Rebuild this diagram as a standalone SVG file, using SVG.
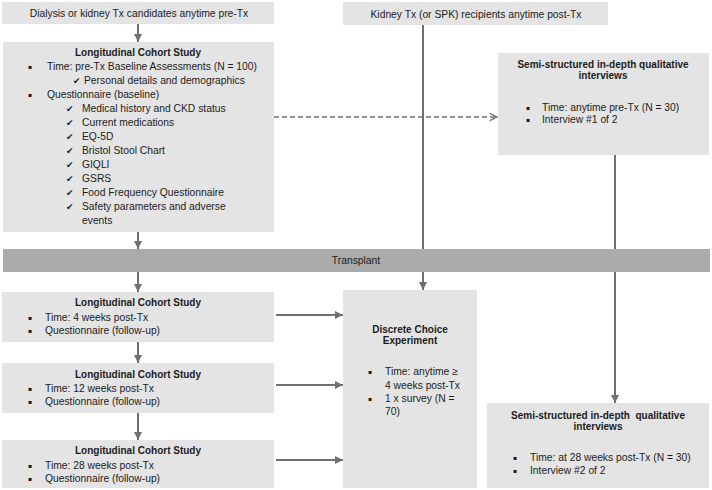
<svg xmlns="http://www.w3.org/2000/svg" width="712" height="490" viewBox="0 0 712 490">
<style>
.box{fill:#e4e4e4}
.bar{fill:#ababab}
text{font-family:"Liberation Sans","DejaVu Sans",sans-serif;font-size:10.3px;fill:#1c1c1c}
.t{font-weight:bold;text-anchor:middle;font-size:10px}
.c{text-anchor:middle}
.b{font-family:"DejaVu Sans",sans-serif;font-size:6px}
.k{font-family:"DejaVu Sans",sans-serif;font-size:9px}
.ln{stroke:#707070;stroke-width:2;fill:none}
.dash{stroke:#707070;stroke-width:1.3;fill:none;stroke-dasharray:5 3}
</style>
<defs>
<marker id="ah" viewBox="0 0 10 10" refX="10" refY="5" markerWidth="4" markerHeight="4" orient="auto" markerUnits="strokeWidth">
<path d="M0,0 L10,5 L0,10 z" fill="#707070"/>
</marker>
<marker id="oh" viewBox="0 0 10 10" refX="9" refY="5" markerWidth="7" markerHeight="7" orient="auto" markerUnits="strokeWidth">
<path d="M1,1 L9,5 L1,9" fill="none" stroke="#707070" stroke-width="1.5"/>
</marker>
</defs>

<g id="connectors">
<line class="ln" x1="138" y1="24" x2="138" y2="42" marker-end="url(#ah)"/>
<line class="ln" x1="138" y1="232" x2="138" y2="249" marker-end="url(#ah)"/>
<line class="ln" x1="138" y1="272" x2="138" y2="292" marker-end="url(#ah)"/>
<line class="ln" x1="138" y1="342" x2="138" y2="363" marker-end="url(#ah)"/>
<line class="ln" x1="138" y1="413" x2="138" y2="440" marker-end="url(#ah)"/>
<line class="dash" x1="274" y1="117" x2="497" y2="117" marker-end="url(#oh)"/>
<line class="ln" x1="423" y1="25" x2="423" y2="249"/>
<line class="ln" x1="615" y1="155" x2="615" y2="249"/>
<line class="ln" x1="423" y1="272" x2="423" y2="290" marker-end="url(#ah)"/>
<line class="ln" x1="615" y1="272" x2="615" y2="403" marker-end="url(#ah)"/>
<line class="ln" x1="276" y1="315" x2="343" y2="315" marker-end="url(#ah)"/>
<line class="ln" x1="276" y1="385" x2="343" y2="385" marker-end="url(#ah)"/>
<line class="ln" x1="276" y1="460" x2="343" y2="460" marker-end="url(#ah)"/>
</g>

<g id="dialysis">
<rect class="box" x="2" y="2" width="272" height="22"/>
<text class="c" x="139" y="17">Dialysis or kidney Tx candidates anytime pre-Tx</text>
</g>

<g id="kidney-tx">
<rect class="box" x="343" y="2" width="265" height="23"/>
<text class="c" x="476" y="18">Kidney Tx (or SPK) recipients anytime post-Tx</text>
</g>

<g id="lcs-baseline">
<rect class="box" x="3" y="42" width="271" height="190"/>
<text class="t" x="138" y="56">Longitudinal Cohort Study</text>
<text class="b" x="28" y="69">▪</text><text x="47" y="70">Time: pre-Tx Baseline Assessments (N = 100)</text>
<text class="k" x="73" y="84">✔</text><text x="84" y="84">Personal details and demographics</text>
<text class="b" x="28" y="97">▪</text><text x="47" y="98">Questionnaire (baseline)</text>
<text class="k" x="66" y="112">✔</text><text x="82" y="112">Medical history and CKD status</text>
<text class="k" x="66" y="126">✔</text><text x="82" y="126">Current medications</text>
<text class="k" x="66" y="140">✔</text><text x="82" y="140">EQ-5D</text>
<text class="k" x="66" y="154">✔</text><text x="82" y="154">Bristol Stool Chart</text>
<text class="k" x="66" y="168">✔</text><text x="82" y="168">GIQLI</text>
<text class="k" x="66" y="182">✔</text><text x="82" y="182">GSRS</text>
<text class="k" x="66" y="196">✔</text><text x="82" y="196">Food Frequency Questionnaire</text>
<text class="k" x="66" y="210">✔</text><text x="82" y="210">Safety parameters and adverse</text>
<text x="82" y="224">events</text>
</g>

<g id="semi-1">
<rect class="box" x="498" y="53" width="211" height="102"/>
<text class="t" x="603" y="68">Semi-structured in-depth qualitative</text>
<text class="t" x="603" y="79">interviews</text>
<text class="b" x="526" y="110">▪</text><text x="542" y="111">Time: anytime pre-Tx (N = 30)</text>
<text class="b" x="526" y="122">▪</text><text x="542" y="123">Interview #1 of 2</text>
</g>

<g id="transplant">
<rect class="bar" x="3" y="249" width="707" height="23"/>
<text class="c" x="356" y="264">Transplant</text>
</g>

<g id="lcs-4wk">
<rect class="box" x="2" y="292" width="272" height="50"/>
<text class="t" x="138" y="306">Longitudinal Cohort Study</text>
<text class="b" x="28" y="320">▪</text><text x="45" y="321">Time: 4 weeks post-Tx</text>
<text class="b" x="28" y="333">▪</text><text x="45" y="334">Questionnaire (follow-up)</text>
</g>

<g id="lcs-12wk">
<rect class="box" x="2" y="363" width="272" height="50"/>
<text class="t" x="138" y="378">Longitudinal Cohort Study</text>
<text class="b" x="28" y="391">▪</text><text x="45" y="392">Time: 12 weeks post-Tx</text>
<text class="b" x="28" y="404">▪</text><text x="45" y="405">Questionnaire (follow-up)</text>
</g>

<g id="lcs-28wk">
<rect class="box" x="2" y="440" width="272" height="48"/>
<text class="t" x="138" y="454">Longitudinal Cohort Study</text>
<text class="b" x="28" y="468">▪</text><text x="45" y="469">Time: 28 weeks post-Tx</text>
<text class="b" x="28" y="481">▪</text><text x="45" y="482">Questionnaire (follow-up)</text>
</g>

<g id="dce">
<rect class="box" x="343" y="290" width="134" height="198"/>
<text class="t" x="410" y="333">Discrete Choice</text>
<text class="t" x="410" y="344">Experiment</text>
<text class="b" x="368" y="374">▪</text><text x="385" y="375">Time: anytime ≥</text>
<text x="385" y="389">4 weeks post-Tx</text>
<text class="b" x="368" y="401">▪</text><text x="385" y="402">1 x survey (N =</text>
<text x="385" y="415">70)</text>
</g>

<g id="semi-2">
<rect class="box" x="487" y="403" width="222" height="85"/>
<text class="t" x="598" y="419" xml:space="preserve">Semi-structured in-depth  qualitative</text>
<text class="t" x="598" y="430">interviews</text>
<text class="b" x="513" y="460">▪</text><text x="530" y="461">Time: at 28 weeks post-Tx (N = 30)</text>
<text class="b" x="513" y="473">▪</text><text x="530" y="474">Interview #2 of 2</text>
</g>
</svg>
